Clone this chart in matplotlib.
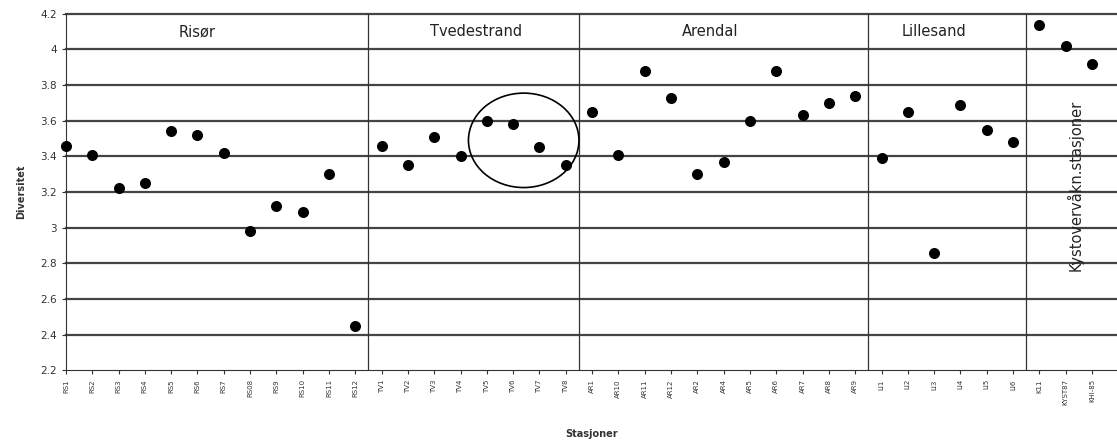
import matplotlib
matplotlib.use("Agg")
import matplotlib.pyplot as plt
from matplotlib.patches import Ellipse

stations = ["RS1", "RS2", "RS3", "RS4", "RS5", "RS6", "RS7", "RS08", "RS9", "RS10", "RS11", "RS12",
            "TV1", "TV2", "TV3", "TV4", "TV5", "TV6", "TV7", "TV8",
            "AR1", "AR10", "AR11", "AR12", "AR2", "AR4", "AR5", "AR6", "AR7", "AR8", "AR9",
            "LI1", "LI2", "LI3", "LI4", "LI5", "LI6",
            "K11", "KYST87", "KHI-85"]
diversity = [3.46, 3.41, 3.22, 3.25, 3.54, 3.52, 3.42, 2.98, 3.12, 3.09, 3.30, 2.45,
             3.46, 3.35, 3.51, 3.40, 3.60, 3.58, 3.45, 3.35,
             3.65, 3.41, 3.88, 3.73, 3.30, 3.37, 3.60, 3.88, 3.63, 3.70, 3.74,
             3.39, 3.65, 2.86, 3.69, 3.55, 3.48,
             4.14, 4.02, 3.92]
regions = ["Risør", "Tvedestrand", "Arendal", "Lillesand"]
region_counts = [12, 8, 11, 6, 3]
last_region = "Kystovervåkn.stasjoner"
y_ticks = [2.2, 2.4, 2.6, 2.8, 3.0, 3.2, 3.4, 3.6, 3.8, 4.0, 4.2]
y_tick_labels = ["2.2", "2.4", "2.6", "2.8", "3", "3.2", "3.4", "3.6", "3.8", "4", "4.2"]

fig = plt.figure(figsize=(11.17, 4.46), dpi=100)
ax = fig.add_axes([0.059, 0.170, 0.941, 0.799])

x = list(range(len(stations)))
ax.set_xlim(0, 39.95)
ax.set_ylim(2.2, 4.2)

for t in y_ticks[1:]:
    ax.axhline(t, color="#444444", lw=1.6, zorder=1, clip_on=False)

ax.scatter(x, diversity, s=48, color="black", zorder=3, clip_on=False)

# region dividers and labels
start = 0
bounds = []
for c in region_counts:
    bounds.append((start, start + c - 1))
    start += c
label_shift = [-0.5, 0.1, -0.5, -0.5]
for i, (a, b) in enumerate(bounds):
    if i > 0:
        ax.axvline(a - 0.5, color="#333333", lw=0.9, zorder=2)
    if i < len(regions):
        ax.text((a + b) / 2 + label_shift[i], 4.1, regions[i], ha="center", va="center",
                fontsize=10.5, color="#222222")
a, b = bounds[-1]
ax.text(b - 0.65, 3.24, last_region, rotation=90, ha="center", va="center",
        fontsize=10.5, color="#222222")

ax.add_patch(Ellipse((17.4, 3.49), 4.2, 0.53, fill=False, edgecolor="black", lw=1.2, zorder=4))

ax.set_xticks(x)
ax.set_xticklabels(stations, rotation=90, fontsize=5, color="#333333")
ax.set_yticks(y_ticks)
ax.set_yticklabels(y_tick_labels, fontsize=7.5, color="#333333")
ax.tick_params(axis="both", length=3, width=0.8, color="#333333")
for s in ["top", "right"]:
    ax.spines[s].set_visible(False)
ax.spines["left"].set_color("#333333")
ax.spines["bottom"].set_color("#333333")

ax.set_ylabel("Diversitet", fontsize=7, fontweight="bold", color="#333333", labelpad=10)
ax.set_xlabel("Stasjoner", fontsize=7, fontweight="bold", color="#333333", labelpad=17)

fig.savefig("out.png", dpi=100)
